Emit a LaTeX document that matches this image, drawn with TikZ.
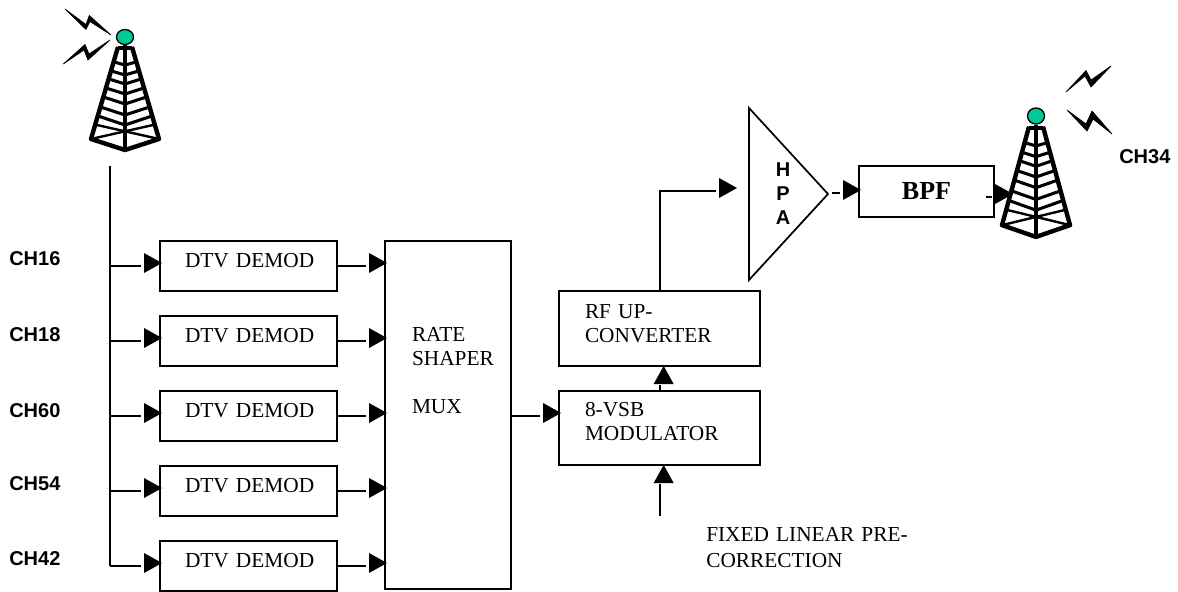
\documentclass[tikz,border=0pt]{standalone}
\usepackage{fontspec}
\usepackage{xcolor}
\usepackage{tikz}
\usetikzlibrary{arrows.meta,positioning,calc}
\setmainfont[WordSpace=0.7]{Liberation Serif}
\newfontfamily\labelfont{Liberation Sans}
\definecolor{ballgreen}{RGB}{0,200,150}
% solid heads that sit a little off their line
\pgfarrowsdeclare{sidehead}{sidehead}{\pgfarrowsleftextend{0pt}\pgfarrowsrightextend{14.25pt}}{%
  \pgfpathmoveto{\pgfpoint{2.25pt}{9.75pt}}\pgfpathlineto{\pgfpoint{15.75pt}{2.25pt}}\pgfpathlineto{\pgfpoint{2.25pt}{-5.25pt}}\pgfpathclose\pgfusepathqfill}
\pgfarrowsdeclare{uphead}{uphead}{\pgfarrowsleftextend{0pt}\pgfarrowsrightextend{14.25pt}}{%
  \pgfpathmoveto{\pgfpoint{0.75pt}{4.75pt}}\pgfpathlineto{\pgfpoint{14.25pt}{-2.75pt}}\pgfpathlineto{\pgfpoint{0.75pt}{-10.25pt}}\pgfpathclose\pgfusepathqfill}
\tikzset{
  blocktext/.style={font=\fontsize{16}{18.3}\selectfont},
  block/.style={draw, blocktext, line width=1.3pt, inner ysep=0pt, outer sep=0pt, align=left},
  demodbox/.style={block, text width=95.25pt, inner xsep=18.75pt, text height=19.5pt, text depth=18pt},
  chlabel/.style={font=\labelfont\bfseries\fontsize{15}{18}\selectfont, inner sep=0pt},
  wire/.style={line width=1.3pt},
  feed/.style={wire, -{sidehead}},
  feedup/.style={wire, -{uphead}},
  bolt/.style={line width=0.5pt, line join=miter},
  pics/tower/.style={code={
    \draw[line width=3.3pt, line join=round] (-7,10) -- (-34,102) -- (0,113) -- (34,102) -- (7,10);
    \draw[line width=3.3pt] (0,8) -- (0,113);
    \draw[line width=3.3pt] (-7,11) -- (7,11);
    \draw[line width=2.3pt] (-11,25) -- (0,28) -- (11,25);
    \draw[line width=2.3pt] (-13.6,34) -- (0,38) -- (13.6,34);
    \draw[line width=2.3pt] (-16,42) -- (0,47) -- (16,42);
    \draw[line width=2.3pt] (-19,51) -- (0,57) -- (19,51);
    \draw[line width=2.3pt] (-21.5,60) -- (0,67) -- (21.5,60);
    \draw[line width=2.3pt] (-24.5,70) -- (0,78) -- (24.5,70);
    \draw[line width=2.3pt] (-27,79) -- (0,88) -- (27,79);
    \draw[line width=1.8pt] (-34,102) -- (28,88);
    \draw[line width=1.8pt] (34,102) -- (-28,88);
    \draw[line width=1pt, fill=ballgreen] (0,0) ellipse (8.5 and 7.5);
  }}
}
\begin{document}
\begin{tikzpicture}[x=0.75pt, y=-0.75pt, node distance=18.75pt]
\useasboundingbox (0,0) rectangle (1178,592);
% receive side
\pic at (125,37) {tower};
\filldraw[bolt] (65,9) -- (86,24.5) -- (89.3,15.5) -- (111,35) -- (90,21.5) -- (86,29.5) -- cycle;
\filldraw[bolt] (63.3,64) -- (85,44.5) -- (89,54) -- (110,40) -- (88,60) -- (84,50) -- cycle;
\coordinate (top) at (110,166);
\node[demodbox, anchor=north west] (d16) at (160,241) {\mbox{DTV DEMOD}};
\node[demodbox, below=of d16] (d18) {\mbox{DTV DEMOD}};
\node[demodbox, below=of d18] (d60) {\mbox{DTV DEMOD}};
\node[demodbox, below=of d60] (d54) {\mbox{DTV DEMOD}};
\node[demodbox, below=of d54] (d42) {\mbox{DTV DEMOD}};
\node[chlabel, anchor=west] (c16) at (9,259) {CH16};
\node[chlabel, anchor=west] (c18) at (9,335) {CH18};
\node[chlabel, anchor=west] (c60) at (9,411) {CH60};
\node[chlabel, anchor=west] (c54) at (9,484) {CH54};
\node[chlabel, anchor=west] (c42) at (9,559) {CH42};
\draw[wire] (top) -- (top |- d42.west);
\draw[feed] (top |- d16.west) -- (d16.west);
\draw[feed] (top |- d18.west) -- (d18.west);
\draw[feed] (top |- d60.west) -- (d60.west);
\draw[feed] (top |- d54.west) -- (d54.west);
\draw[feed] (top |- d42.west) -- (d42.west);
% mux and modulator
\node[block, anchor=north west, text width=54pt, inner xsep=20.25pt, text height=75pt, text depth=186pt] (mux) at (385,241) {RATE\\SHAPER\\[18pt]MUX};
\draw[feed] (d16.east) -- (d16.east -| mux.west);
\draw[feed] (d18.east) -- (d18.east -| mux.west);
\draw[feed] (d60.east) -- (d60.east -| mux.west);
\draw[feed] (d54.east) -- (d54.east -| mux.west);
\draw[feed] (d42.east) -- (d42.east -| mux.west);
\node[block, anchor=north west, text width=111.75pt, inner xsep=19.5pt, text height=18.75pt, text depth=36.75pt] (mod) at (559,391) {8-VSB\\MODULATOR};
\node[block, anchor=north west, text width=111.75pt, inner xsep=19.5pt, text height=20.25pt, text depth=36pt] (rf) at (559,291) {RF UP-\\CONVERTER};
\coordinate (pre) at (660,516);
\coordinate (modin) at (559,416);
\node[blocktext, anchor=north west, inner sep=0pt, align=left, text width=170pt] (fix) at (706,527) {FIXED LINEAR PRE-\\[1pt]CORRECTION};
\draw[feed] (mux.east |- modin) -- (modin);
\draw[feedup] (mod.north -| pre) -- (rf.south -| pre);
\draw[feedup] (pre) -- (mod.south -| pre);
% transmit side
\coordinate (hpat) at (749,108);
\coordinate (hpab) at (749,280);
\coordinate (hpaa) at (828,194);
\draw[wire, line join=miter] (hpat) -- (hpaa) -- (hpab) -- cycle;
\node[chlabel, align=center] (hpa) at (783,194) {H\\P\\A};
\node[draw, line width=1.3pt, outer sep=0pt, minimum width=101.25pt, minimum height=38.25pt, font=\bfseries\fontsize{19.5}{22}\selectfont, anchor=north west] (bpf) at (859,166) {BPF};
\coordinate (hpain) at (735,191);
\draw[feed] (rf.north -| pre) |- (hpain);
\coordinate (hpaout) at (832,193);
\draw[feed] (hpaout) -- (hpaout -| bpf.west);
\pic[yscale=1.07] at (1036,116) {tower};
\filldraw[bolt] (1066,92) -- (1086,70.5) -- (1091,80) -- (1111,66) -- (1091,87) -- (1085,76) -- cycle;
\filldraw[bolt] (1067,110) -- (1086,124) -- (1092,111) -- (1112,134) -- (1093,119) -- (1087,131) -- cycle;
\coordinate (bpfout) at (986,197);
\coordinate (towerin) at (1011,197);
\draw[feed] (bpfout) -- (towerin);
\node[chlabel, anchor=west] (c34) at (1119,157) {CH34};
\end{tikzpicture}
\end{document}
